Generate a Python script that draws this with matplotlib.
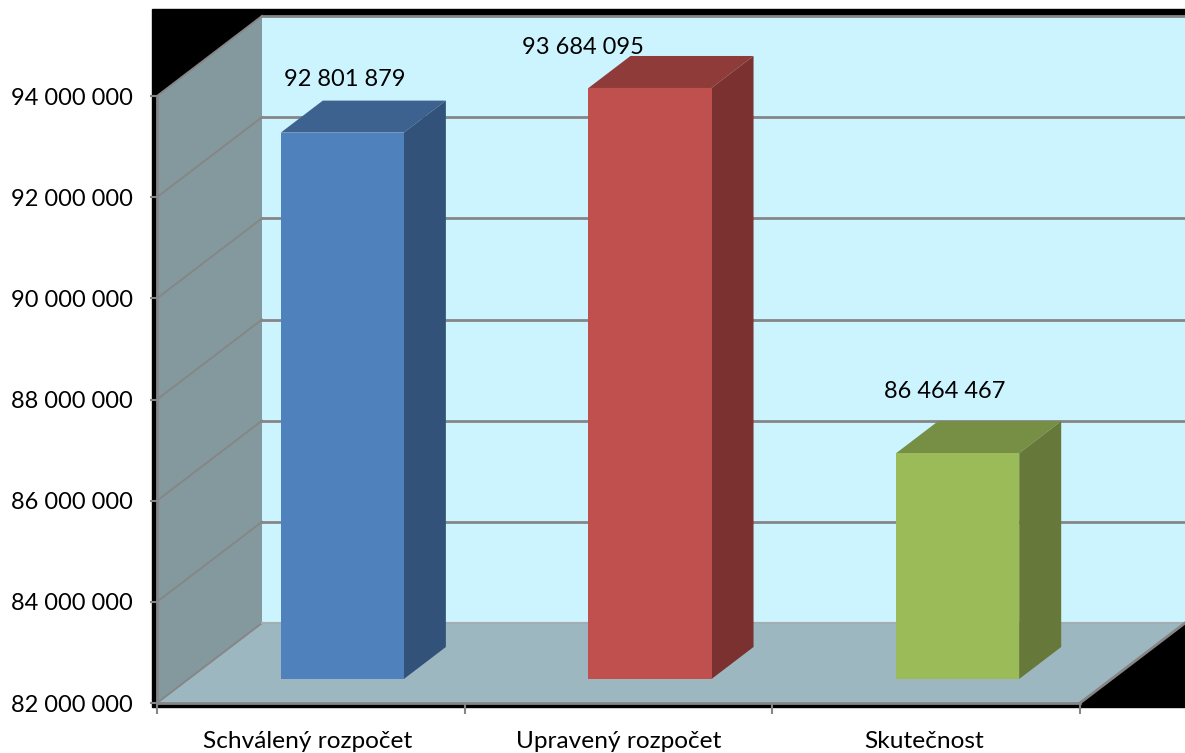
"""Pseudo-3D budget bar chart, drawn on a normal axes with a depth offset."""
import matplotlib
matplotlib.use("Agg")
import matplotlib.pyplot as plt
from matplotlib.patches import Polygon, Rectangle

W, H = 1185, 753

categories = ["Schválený rozpočet", "Upravený rozpočet", "Skutečnost"]
values = [92801879, 93684095, 86464467]
y_ticks = [82000000, 84000000, 86000000, 88000000, 90000000, 92000000, 94000000]

# front, top and side colours of each bar
FRONT = ["#4f81bd", "#c0504d", "#9bbb59"]
TOP = ["#3e628f", "#8f3b39", "#778e45"]
SIDE = ["#325279", "#7b3130", "#66793a"]
# label centres in pixels, they were moved by hand in the original
LABEL_POS = [(345, 79.5), (582.5, 47.5), (944.5, 391.5)]

GRID = "#868686"
WALL = "#ccf4ff"
SIDE_WALL = "#84999e"
FLOOR = "#9db7c1"

LEFT, RIGHT = 157, 1080
YMIN, YMAX = y_ticks[0], y_ticks[-1]
PX_PER_CAT = (RIGHT - LEFT) / 3
PX_PER_UNIT = (703 - 96) / (YMAX - YMIN)
DEPTH_X = 105 / PX_PER_CAT
DEPTH_Y = 80 / PX_PER_UNIT


def proj(x, y, d=0.0):
    """Data position at depth d (0 front, 1 back wall)."""
    return (x + d * DEPTH_X, y + d * DEPTH_Y)


def poly(ax, pts, color, z, edge="none"):
    ax.add_patch(Polygon(pts, closed=True, facecolor=color, edgecolor=edge,
                         linewidth=1, zorder=z, clip_on=False))


def line(ax, pts, lw=2, color=GRID):
    xs, ys = zip(*pts)
    ax.plot(xs, ys, color=color, lw=lw, zorder=2, clip_on=False,
            solid_joinstyle="miter")


plt.rcParams["font.family"] = ["Lato", "DejaVu Sans"]
fig = plt.figure(figsize=(W / 100, H / 100), dpi=100)
fig.add_artist(Rectangle((152 / W, 1 - 707 / H), (W - 152) / W, 698 / H,
                         transform=fig.transFigure, color="black", zorder=-5))

ax = fig.add_axes([LEFT / W, 1 - 703 / H, (RIGHT - LEFT) / W, (703 - 96) / H])
ax.patch.set_visible(False)
ax.set_xlim(0, 3)
ax.set_ylim(YMIN, YMAX)

# walls and floor
poly(ax, [proj(0, YMIN, 1), proj(3, YMIN, 1), proj(3, YMAX, 1), proj(0, YMAX, 1)], WALL, 1)
poly(ax, [proj(0, YMIN), proj(0, YMIN, 1), proj(0, YMAX, 1), proj(0, YMAX)], SIDE_WALL, 1)
poly(ax, [proj(0, YMIN), proj(3, YMIN), proj(3, YMIN, 1), proj(0, YMIN, 1)], FLOOR, 1)

# gridlines run along the side wall and across the back wall
for v in y_ticks:
    line(ax, [proj(0, v), proj(0, v, 1)], lw=1.4)
    if v == YMIN:
        line(ax, [proj(0, v, 1), proj(3, v, 1)], lw=1.6, color="#a3aeb3")
    else:
        line(ax, [proj(0, v, 1), proj(3, v, 1)])
line(ax, [proj(3, YMIN), proj(3, YMIN, 1)])

# bars: front face at depth .3, back at depth .7, .4 of a category wide
for i, v in enumerate(values):
    x0, x1 = i + 0.5 - 0.2, i + 0.5 + 0.2
    poly(ax, [proj(x0, v, 0.3), proj(x1, v, 0.3), proj(x1, v, 0.7), proj(x0, v, 0.7)], TOP[i], 3)
    poly(ax, [proj(x1, YMIN, 0.3), proj(x1, YMIN, 0.7), proj(x1, v, 0.7), proj(x1, v, 0.3)], SIDE[i], 3)
    poly(ax, [proj(x0, YMIN, 0.3), proj(x1, YMIN, 0.3), proj(x1, v, 0.3), proj(x0, v, 0.3)], FRONT[i], 4)
    px, py = LABEL_POS[i]
    fig.text(px / W, 1 - py / H, f"{v:,}".replace(",", " "), fontsize=17,
             ha="center", va="center", color="black", zorder=6)

for s in ("top", "right"):
    ax.spines[s].set_visible(False)
for s in ("left", "bottom"):
    ax.spines[s].set_color(GRID)
    ax.spines[s].set_linewidth(2)
    ax.spines[s].set_zorder(5)

ax.set_yticks(y_ticks)
ax.set_yticklabels([f"{v:,}".replace(",", " ") for v in y_ticks], fontsize=17)
ax.set_xticks([0, 1, 2, 3])
ax.set_xticklabels([])
ax.set_xticks([0.49, 1.5, 2.492], labels=categories, minor=True, fontsize=17.6)
ax.tick_params(axis="y", length=5, width=1.5, color=GRID, pad=12.5)
ax.tick_params(axis="x", which="major", length=8, width=1.5, color=GRID)
ax.tick_params(axis="x", which="minor", length=0, pad=20)

fig.savefig("out.png", dpi=100)
